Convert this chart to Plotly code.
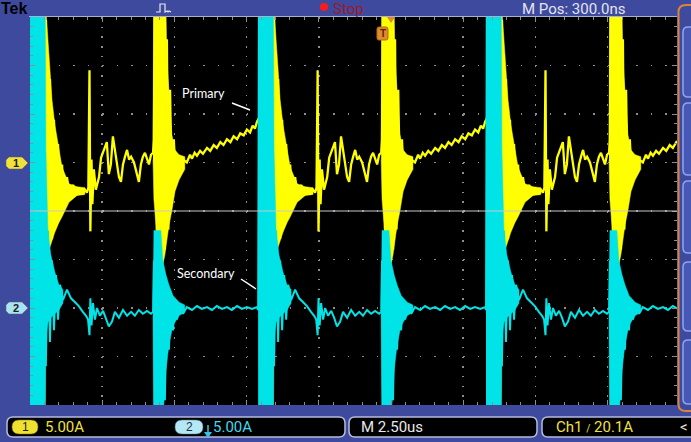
import plotly.graph_objects as go

# ------------------------------------------------------------------ data
# Tektronix capture: 2.50 us/div; Ch1 (primary) and Ch2 (secondary) at 5.00 A/div.
# One switching cycle (time relative to the main spike),
# and the screen times at which each cycle starts.
cycle_start_us = [-7.65, 0.24, 8.14, 16.03]

primary_t_us = [-0.21, -0.14, -0.10, -0.03, 0.03, 0.10, 0.17, 0.24, 0.31, 0.38,
                0.45, 0.52, 0.59, 0.66, 0.73, 0.80, 0.87, 0.93, 1.04, 1.14,
                1.25, 1.35, 1.45, 1.56, 1.66, 1.73, 1.78, 1.82, 1.85, 1.89,
                1.92, 1.97, 2.04, 2.15, 2.22, 2.32, 2.42, 2.49, 2.56, 2.63,
                2.70, 2.77, 2.84, 2.91, 2.98, 3.05, 3.12, 3.19, 3.26, 3.36,
                3.46, 3.53, 3.60, 3.67, 3.74, 3.81, 3.88, 3.95, 4.02, 4.05,
                4.09, 4.16, 4.22, 4.29, 4.36, 4.43, 4.50, 4.55, 4.61, 4.67,
                4.74, 4.81, 4.88, 4.95, 5.06, 5.19, 5.30, 5.37, 5.46, 5.54,
                5.65, 5.75, 5.89, 6.00, 6.12, 6.23, 6.35, 6.46, 6.58, 6.70,
                6.81, 6.93, 7.04, 7.16, 7.27, 7.38, 7.47, 7.55, 7.62, 7.69]
primary_a = [4.6, 6.0, 22, -30, 22, -30, 22, -30, 14.7, -14.1,
             8.6, -7.9, 4.4, -6.4, 1.9, -5.4, -0.2, -4.3, -1.5, -3.8,
             -2.3, -3.4, -2.6, -3.3, -2.8, -3.1, -2.6, 9.5, -7.1, 0.3,
             -4.3, -0.7, -2.8, -1.5, 0.5, 1.3, 2.1, -1.2, -0.2, 2.7,
             1.3, -0.4, -1.5, -2.0, -0.2, 0.6, 1.3, 0.3, 0.6, 0.0,
             -1.2, -2.0, -0.2, 0.6, 1.0, 0.3, -0.2, 0.8, 1.0, 2.4,
             22, -10.5, 22, -11.0, 22, -9.0, 12.7, -6.9, 7.5, -3.8,
             2.4, -2.3, 0.6, -0.9, 0.3, 0.0, 0.8, 0.4, 1.0, 0.7,
             1.2, 0.9, 1.5, 1.2, 1.8, 1.5, 2.1, 1.8, 2.4, 2.1,
             2.7, 2.4, 3.0, 2.8, 3.4, 3.1, 3.8, 3.5, 4.2, 4.6]

# envelopes of the dense ringing bursts (upper / lower edge)
primary_burst1_t_us = [-0.10, 0.24, 0.31, 0.42, 0.52, 0.62, 0.76, 0.87, 1.11, 1.39, 1.66]
primary_burst1_hi_a = [22, 22, 15.8, 11.1, 6.5, 3.9, 1.3, -0.5, -2.2, -2.5, -2.6]
primary_burst1_lo_a = [-2.8, -3.8, -9.0, -9.0, -8.0, -7.2, -6.2, -5.6, -4.1, -3.4, -3.3]

primary_burst2_t_us = [4.02, 4.05, 4.19, 4.33, 4.43, 4.50, 4.57, 4.67, 4.78, 4.92, 5.12]
primary_burst2_hi_a = [1.3, 22, 22, 22, 22, 10.6, 7.5, 2.9, 1.3, 0.8, 0.6]
primary_burst2_lo_a = [0.3, -3.8, -9.0, -11.0, -9.5, -8.0, -6.5, -5.0, -3.0, -1.8, -0.7]

secondary_t_us = [-0.24, -0.21, -0.17, -0.14, -0.10, -0.03, 0.03, 0.10, 0.17, 0.24,
                  0.31, 0.38, 0.45, 0.52, 0.59, 0.66, 0.73, 0.80, 0.90, 1.04,
                  1.18, 1.32, 1.45, 1.59, 1.70, 1.77, 1.82, 1.85, 1.89, 1.94,
                  2.01, 2.08, 2.18, 2.29, 2.39, 2.49, 2.60, 2.70, 2.84, 2.98,
                  3.12, 3.26, 3.39, 3.53, 3.67, 3.81, 3.95, 4.02, 4.05, 4.09,
                  4.12, 4.16, 4.22, 4.29, 4.36, 4.43, 4.50, 4.57, 4.64, 4.71,
                  4.78, 4.85, 4.95, 5.06, 5.19, 5.37, 5.54, 5.71, 5.89, 6.06,
                  6.23, 6.41, 6.58, 6.75, 6.93, 7.10, 7.27, 7.45, 7.62]
secondary_a = [-0.2, 35, -15, 35, -15, 16, -15, 12, -15, 8.0,
               -6.0, 8.0, -3.5, 4.9, -2.3, 3.4, -1.2, 2.4, 0.8, 1.9,
               1.0, 0.6, 0.2, -0.4, -0.8, -1.2, -2.8, 1.0, -1.8, 0.5,
               -1.2, 0.0, -0.8, -0.3, -1.0, -1.9, -1.4, -0.4, -1.0, -0.2,
               -0.8, -0.4, -0.8, -0.2, -0.6, -0.3, -0.6, -0.4, 4.9, -15,
               4.0, -15, 4.0, -15, 3.9, -9.5, 2.4, -4.3, 1.6, -2.3,
               0.8, -1.2, 0.3, -0.6, 0.1, -0.2, 0.2, -0.1, 0.1, -0.2,
               0.2, -0.1, 0.1, -0.2, 0.2, -0.1, 0.1, -0.1, 0.1]

secondary_burst1_t_us = [-0.24, 0.28, 0.31, 0.38, 0.48, 0.62, 0.76, 0.90]
secondary_burst1_hi_a = [35, 35, 16.3, 8.0, 5.5, 3.7, 2.4, 1.9]
secondary_burst1_lo_a = [-15, -15, -3.0, -1.5, -1.0, -0.6, -0.2, 0.5]

secondary_burst2_t_us = [4.02, 4.05, 4.29, 4.36, 4.47, 4.57, 4.71, 4.92, 5.12]
secondary_burst2_hi_a = [0.3, 8.0, 8.0, 4.9, 3.4, 2.4, 1.3, 0.6, 0.3]
secondary_burst2_lo_a = [-0.7, -15, -15, -11.5, -6.4, -3.8, -1.8, -0.8, -0.4]

# ------------------------------------------------------------------ style
W, H = 691, 442
PL, PR, PT, PB = 30, 677, 17, 405          # graticule in page pixels
DIV_X_PX, US_PER_DIV = 72.2, 2.5
X_MAX = (PR - PL) / DIV_X_PX * US_PER_DIV
BLUE = "#3e4a9e"
YEL = "#ffff00"
CYN = "#00e4e8"
GRID = "#8e8e8e"
TEKFONT = "Liberation Sans Narrow, Roboto, Liberation Sans, sans-serif"


def px(x):
    return (x - PL) / (PR - PL)


def py(y):
    return (PB - y) / (PB - PT)


def tile(ts, vs):
    xs, ys = [], []
    for t0 in cycle_start_us:
        xs += [t0 + t for t in ts]
        ys += list(vs)
    return xs, ys


fig = go.Figure()


def burst(ts, hi, lo, color, yaxis):
    for t0 in cycle_start_us:
        xs = [t0 + t for t in ts] + [t0 + t for t in reversed(ts)]
        ys = list(hi) + list(reversed(lo))
        fig.add_trace(go.Scatter(x=xs, y=ys, mode="lines", fill="toself",
                                 fillcolor=color, line=dict(color=color, width=0.5),
                                 yaxis=yaxis, hoverinfo="skip"))


# secondary (Ch2) below, primary (Ch1) on top
burst(secondary_burst1_t_us, secondary_burst1_hi_a, secondary_burst1_lo_a, CYN, "y2")
burst(secondary_burst2_t_us, secondary_burst2_hi_a, secondary_burst2_lo_a, CYN, "y2")
sx, sy = tile(secondary_t_us, secondary_a)
fig.add_trace(go.Scatter(x=sx, y=sy, mode="lines", line=dict(color=CYN, width=2),
                         yaxis="y2", hoverinfo="skip"))
burst(primary_burst1_t_us, primary_burst1_hi_a, primary_burst1_lo_a, YEL, "y")
burst(primary_burst2_t_us, primary_burst2_hi_a, primary_burst2_lo_a, YEL, "y")
pxs, pys = tile(primary_t_us, primary_a)
fig.add_trace(go.Scatter(x=pxs, y=pys, mode="lines", line=dict(color=YEL, width=2.3),
                         yaxis="y", hoverinfo="skip"))

# ------------------------------------------------------------------ decorations
shapes = []
annos = []


def path(points, close=False):
    s = "M " + " L ".join(f"{px(x):.5f},{py(y):.5f}" for x, y in points)
    return s + (" Z" if close else "")


def rrect(x0, y0, x1, y1, r):
    def P(x, y):
        return f"{px(x):.5f},{py(y):.5f}"
    return (f"M {P(x0 + r, y0)} L {P(x1 - r, y0)} Q {P(x1, y0)} {P(x1, y0 + r)} "
            f"L {P(x1, y1 - r)} Q {P(x1, y1)} {P(x1 - r, y1)} L {P(x0 + r, y1)} "
            f"Q {P(x0, y1)} {P(x0, y1 - r)} L {P(x0, y0 + r)} Q {P(x0, y0)} {P(x0 + r, y0)} Z")


def label(text, x, y, color, size, xanchor="left", family=TEKFONT):
    annos.append(dict(text=text, x=px(x), y=py(y), xref="paper", yref="paper",
                      xanchor=xanchor, yanchor="middle", showarrow=False, borderpad=0,
                      font=dict(color=color, size=size, family=family)))


# center line of graticule
shapes.append(dict(type="line", xref="paper", yref="paper", x0=0, x1=1,
                   y0=py(211), y1=py(211), line=dict(color="#c8c8c8", width=1)))
# top border line
shapes.append(dict(type="line", xref="paper", yref="paper", x0=px(29), x1=px(677),
                   y0=py(16.5), y1=py(16.5), line=dict(color="#a8b0d4", width=1)))

# top bar
label("<b>Tek</b>", 0, 8.5, "#000000", 16, family="Liberation Sans, Arial, sans-serif")
shapes.append(dict(type="path", xref="paper", yref="paper",
                   path=path([(156, 12), (160, 12), (160, 4), (165, 4), (165, 12),
                              (167, 11), (168, 12), (169, 11), (171, 12)]),
                   line=dict(color="#e8e8f0", width=1.2)))
shapes.append(dict(type="circle", xref="paper", yref="paper", x0=px(320), x1=px(328),
                   y0=py(3), y1=py(11), fillcolor="#ff1a1a", line=dict(width=0)))
label("Stop", 332, 9, "#9a1a2a", 15)
label("M Pos: 300.0ns", 521, 9, "#e4e4f0", 15)

# trigger marker
shapes.append(dict(type="path", xref="paper", yref="paper", path=rrect(377, 27, 388, 40, 2),
                   fillcolor="#e08a30", line=dict(color="#b86a20", width=1)))
label("<b>T</b>", 382.5, 33.5, "#5a2800", 10, xanchor="center",
      family="Liberation Sans, sans-serif")
shapes.append(dict(type="path", xref="paper", yref="paper",
                   path=path([(387, 17), (395, 17), (391, 23)], close=True),
                   fillcolor="#e08a30", line=dict(width=0)))

# channel ground tags
for yy, fill, txt in [(163, "#f0e23a", "1"), (308, "#a8e4f2", "2")]:
    shapes.append(dict(type="path", xref="paper", yref="paper",
                       path=path([(9, yy - 6), (22, yy - 6), (28, yy), (22, yy + 6),
                                  (9, yy + 6), (6, yy + 3), (6, yy - 3)], close=True),
                       fillcolor=fill, line=dict(color="#606060", width=0.5)))
    label(f"<b>{txt}</b>", 16, yy, "#202020", 11, xanchor="center",
          family="Liberation Sans, sans-serif")

# Primary / Secondary labels
label("Primary", 181, 94, "#ffffff", 12.5, family="Lato, Open Sans, sans-serif")
shapes.append(dict(type="line", xref="paper", yref="paper", x0=px(232), y0=py(103),
                   x1=px(250), y1=py(110), line=dict(color="#ffffff", width=1.5)))
label("Secondary", 176, 273, "#ffffff", 12.5, family="Lato, Open Sans, sans-serif")
shapes.append(dict(type="line", xref="paper", yref="paper", x0=px(241), y0=py(279),
                   x1=px(256), y1=py(289), line=dict(color="#ffffff", width=1.5)))

# right side menu
shapes.append(dict(type="path", xref="paper", yref="paper",
                   path=("M " + f"{px(700):.5f},{py(411):.5f} L {px(686):.5f},{py(411):.5f} "
                         f"Q {px(678.5):.5f},{py(411):.5f} {px(678.5):.5f},{py(404):.5f} "
                         f"L {px(678.5):.5f},{py(12):.5f} "
                         f"Q {px(678.5):.5f},{py(5):.5f} {px(686):.5f},{py(5):.5f} "
                         f"L {px(700):.5f},{py(5):.5f}"),
                   line=dict(color="#d8843a", width=2)))
for y0, y1 in [(27, 97), (103, 175), (181, 253), (262, 331), (340, 404)]:
    shapes.append(dict(type="path", xref="paper", yref="paper",
                       path=rrect(683, y0, 702, y1, 5),
                       fillcolor="#4658b4", line=dict(color="#8fa4f0", width=1.5)))

# bottom status boxes
for x0, x1 in [(7, 345), (349, 537), (542, 705)]:
    shapes.append(dict(type="path", xref="paper", yref="paper",
                       path=rrect(x0, 417, x1, 437, 6),
                       fillcolor="#000000", line=dict(color="#b4bce0", width=1.5)))
shapes.append(dict(type="path", xref="paper", yref="paper", path=rrect(12, 420, 38, 434, 7),
                   fillcolor="#f0e030", line=dict(color="#807010", width=0.5)))
label("1", 25, 427, "#202020", 12, xanchor="center", family="Liberation Sans, sans-serif")
label("5.00A", 44, 427, "#f0e040", 15)
shapes.append(dict(type="path", xref="paper", yref="paper", path=rrect(175, 420, 203, 434, 7),
                   fillcolor="#b4e8f4", line=dict(color="#508090", width=0.5)))
label("2", 189, 427, "#203040", 12, xanchor="center", family="Liberation Sans, sans-serif")
shapes.append(dict(type="path", xref="paper", yref="paper",
                   path=path([(208, 425), (208, 433)]), line=dict(color="#30c8e0", width=1.5)))
shapes.append(dict(type="path", xref="paper", yref="paper",
                   path=path([(204, 432), (212, 432), (208, 438)], close=True),
                   fillcolor="#30c8e0", line=dict(width=0)))
label("5.00A", 212, 427, "#40d8ec", 15)
label("M 2.50us", 360, 427, "#e8e8e8", 15)
label("Ch1 <span style='font-size:10px'>/</span> 20.1A", 555, 427, "#f0e040", 15)
label("<", 679, 427, "#e8e8d8", 15)

axis_common = dict(showticklabels=False, zeroline=False, showline=False,
                   fixedrange=True, ticks="inside", tickcolor=GRID, mirror="ticks")

fig.update_layout(
    width=W, height=H, autosize=False,
    margin=dict(l=PL, r=W - PR, t=PT, b=H - PB, pad=0),
    paper_bgcolor=BLUE, plot_bgcolor="#000000", showlegend=False,
    xaxis=dict(range=[0, X_MAX], tick0=0, dtick=US_PER_DIV, showgrid=True,
               gridcolor=GRID, gridwidth=1.5, griddash="1.5px,8.2px", ticklen=5,
               minor=dict(dtick=US_PER_DIV / 5, ticks="inside", ticklen=3,
                          tickcolor=GRID, showgrid=False),
               **axis_common),
    yaxis=dict(range=[-25, 15], tick0=0, dtick=5, showgrid=True,
               gridcolor=GRID, gridwidth=1.5, griddash="1.5px,12.94px", ticklen=5,
               minor=dict(dtick=1, ticks="inside", ticklen=3, tickcolor=GRID,
                          showgrid=False),
               **axis_common),
    yaxis2=dict(range=[-10, 30], overlaying="y", visible=False, fixedrange=True),
    shapes=shapes, annotations=annos,
)

fig.write_html("out.html", config={"displayModeBar": False, "staticPlot": True})
